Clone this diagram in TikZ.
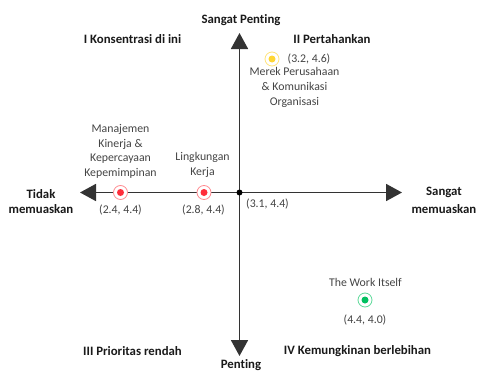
\documentclass[tikz,border=0pt]{standalone}
\usepackage{fontspec}
\setmainfont[Ligatures=CommonOff]{Carlito}
\usetikzlibrary{arrows.meta}
\definecolor{axis}{HTML}{333333}
\definecolor{lbl}{HTML}{444444}
\definecolor{hdr}{HTML}{1A1A1A}
\definecolor{redc}{HTML}{FF2D3A}
\definecolor{redr}{HTML}{FF8A90}
\definecolor{yelc}{HTML}{FFD633}
\definecolor{yelr}{HTML}{FFE47A}
\definecolor{grnc}{HTML}{00C060}
\definecolor{grnr}{HTML}{5ED99A}
\tikzset{
  hd/.style={font=\fontsize{12.8}{15}\selectfont\bfseries, text=hdr, inner sep=0pt, align=center},
  lb/.style={font=\fontsize{11.8}{14.7}\selectfont, text=lbl, inner sep=0pt, align=center},
  axisline/.style={draw=axis, line width=1.8pt, -{Triangle[length=16pt,width=17pt]}},
  ring/.style={circle, draw=#1, line width=0.8pt, minimum size=14pt, inner sep=0pt, fill=white},
  dotm/.style={circle, fill=#1, minimum size=7pt, inner sep=0pt},
}
\begin{document}
\begin{tikzpicture}[x=1pt,y=-1pt]
\useasboundingbox (0,0) rectangle (477,372);
\coordinate (c) at (239.5,192.5);
\coordinate (l) at (80,192.5);
\coordinate (r) at (402,192.5);
\coordinate (t) at (239.5,33);
\coordinate (b) at (239.5,356);
\draw[axisline] (c) -- (l);
\draw[axisline] (c) -- (r);
\draw[axisline] (c) -- (t);
\draw[axisline] (c) -- (b);
\node[circle, fill=black, minimum size=6pt, inner sep=0pt] (o) at (c) {};

\node[hd] (top) at (241,20) {Sangat Penting};
\node[hd, anchor=base] (bot) at (241,368.5) {Penting};
\node[hd] (q1) at (132.5,39) {I Konsentrasi di ini};
\node[hd] (q2) at (332,39) {II Pertahankan};
\node[hd] (q3) at (132.5,351) {III Prioritas rendah};
\node[hd] (q4) at (357.5,351) {IV Kemungkinan berlebihan};
\node[hd] (left) at (41,202) {Tidak\\memuaskan};
\node[hd] (right1) at (444,192.5) {Sangat};
\node[hd, anchor=east] (right2) at (476.5,209) {memuaskan};

% yellow
\node[ring=yelr] (y) at (272,59) {};
\node[dotm=yelc] at (y) {};
\node[lb] (yv) at (309,59) {(3.2, 4.6)};
\node[lb] (yt) at (294.5,87.5) {Merek Perusahaan\\\& Komunikasi\\Organisasi};

% red 1
\node[ring=redr] (r1) at (120.5,192.5) {};
\node[dotm=redc] at (r1) {};
\node[lb] (r1t) at (120.5,151.5) {Manajemen\\Kinerja \&\\Kepercayaan\\Kepemimpinan};
\node[lb] (r1v) at (120.5,210) {(2.4, 4.4)};

% red 2
\node[ring=redr] (r2) at (204,192.5) {};
\node[dotm=redc] at (r2) {};
\node[lb] (r2t) at (202.5,165) {Lingkungan\\Kerja};
\node[lb] (r2v) at (203.5,210) {(2.8, 4.4)};

\node[lb] (ov) at (267.5,204) {(3.1, 4.4)};

% green
\node[ring=grnr] (g) at (365,300) {};
\node[dotm=grnc] at (g) {};
\node[lb] (gt) at (365.5,282) {The Work Itself};
\node[lb] (gv) at (365,320) {(4.4, 4.0)};
\end{tikzpicture}
\end{document}
